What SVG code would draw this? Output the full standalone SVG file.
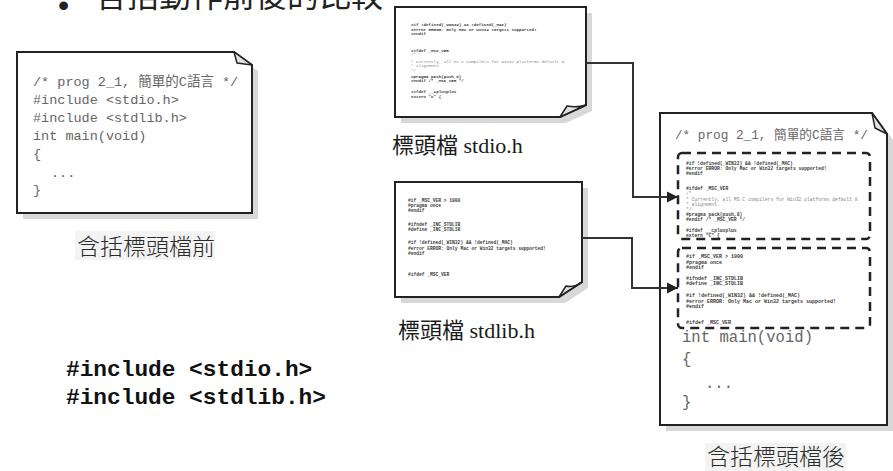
<svg xmlns="http://www.w3.org/2000/svg" width="893" height="471" viewBox="0 0 893 471">
<style>
.doc{fill:#fff;stroke:#222;stroke-width:2;stroke-linejoin:miter}
.shadow{fill:#d8d8d8;stroke:none}
.fold{fill:#e2e2e2;stroke:#222;stroke-width:1.5;stroke-linejoin:round}
.code{font-family:"Liberation Mono","Noto Sans CJK TC",monospace;fill:#666}
.tiny{font-family:"Liberation Mono",monospace;font-weight:bold;fill:#3a3a3a}
.tinyc{font-family:"Liberation Mono",monospace;fill:#888}
.lbl{font-family:"Noto Sans CJK TC",sans-serif;font-size:23px;fill:#2a2a2a;font-weight:300}
.hlbl{font-family:"Liberation Serif","Noto Sans CJK TC",serif;font-size:22px;fill:#1a1a1a}
.dash{fill:none;stroke:#222;stroke-width:2.5;stroke-dasharray:9 6}
.conn{fill:none;stroke:#333;stroke-width:2}
</style>
<defs>
<marker id="arr" markerUnits="userSpaceOnUse" markerWidth="12" markerHeight="12" refX="11" refY="6" orient="auto">
<path d="M0,0.5 L11,6 L0,11.5 Z" fill="#222"/>
</marker>
</defs>

<g id="title">
<text x="58" y="16" font-family="Liberation Sans, sans-serif" font-size="32" fill="#222">•</text>
<text x="95" y="7" font-family="Noto Sans CJK TC, sans-serif" font-size="32" fill="#222">含括動作前後的比較</text>
</g>

<g id="before">
<path class="shadow" d="M23,58 H240 L258,71 V219 H23 Z"/>
<path class="doc" d="M17,52 H234 L252,65 V213 H17 Z"/>
<path class="fold" d="M234,52 L237,63 L252,65 Z"/>
<g class="code" font-size="13.5">
<text x="33" y="86">/* prog 2_1, 簡單的C語言 */</text>
<text x="33" y="104">#include &lt;stdio.h&gt;</text>
<text x="33" y="122">#include &lt;stdlib.h&gt;</text>
<text x="33" y="140">int main(void)</text>
<text x="33" y="158">{</text>
<text x="51" y="177">...</text>
<text x="33" y="194">}</text>
</g>
<rect x="75" y="231" width="140" height="29" fill="#f3f3f3"/>
<text class="lbl" x="77" y="255">含括標頭檔前</text>
</g>

<g id="stdio">
<path class="shadow" d="M401,13 H592 V111 L566,123 H401 Z"/>
<path class="doc" d="M395,7 H586 V105 L560,117 H395 Z"/>
<path class="fold" d="M560,117 L567,106 Q577,108 586,105 Z"/>
<g font-size="4.2">
<text class="tiny" x="411" y="26">#if     !defined(_WIN32) &amp;&amp; !defined(_MAC)</text>
<text class="tiny" x="411" y="30.5">#error ERROR: Only Mac or Win32 targets supported!</text>
<text class="tiny" x="411" y="35">#endif</text>
<text class="tiny" x="411" y="52">#ifdef  _MSC_VER</text>
<text class="tinyc" x="411" y="56">/*</text>
<text class="tinyc" x="411" y="62.5"> * Currently, all MS C compilers for Win32 platforms default 8</text>
<text class="tinyc" x="411" y="67"> * alignment.</text>
<text class="tinyc" x="411" y="71.5"> */</text>
<text class="tiny" x="411" y="77.5">#pragma pack(push,8)</text>
<text class="tiny" x="411" y="81.5">#endif  /* _MSC_VER */</text>
<text class="tiny" x="411" y="92.5">#ifdef  __cplusplus</text>
<text class="tiny" x="411" y="97.5">extern "C" {</text>
</g>
<text class="hlbl" x="392" y="153">標頭檔 stdio.h</text>
</g>

<g id="stdlib">
<path class="shadow" d="M401,188 H588 V288 L565,303 H401 Z"/>
<path class="doc" d="M395,182 H582 V282 L559,297 H395 Z"/>
<path class="fold" d="M559,297 L566,286 Q574,288 582,282 Z"/>
<g font-size="4.6">
<text class="tiny" x="408" y="201.5">#if     _MSC_VER &gt; 1000</text>
<text class="tiny" x="408" y="207">#pragma once</text>
<text class="tiny" x="408" y="212">#endif</text>
<text class="tiny" x="408" y="225.5">#ifndef _INC_STDLIB</text>
<text class="tiny" x="408" y="230.5">#define _INC_STDLIB</text>
<text class="tiny" x="408" y="244">#if     !defined(_WIN32) &amp;&amp; !defined(_MAC)</text>
<text class="tiny" x="408" y="249.5">#error ERROR: Only Mac or Win32 targets supported!</text>
<text class="tiny" x="408" y="255">#endif</text>
<text class="tiny" x="408" y="275.5">#ifdef  _MSC_VER</text>
</g>
<text class="hlbl" x="398" y="338">標頭檔 stdlib.h</text>
</g>

<g id="after">
<path class="shadow" d="M666,119 H878 L893,140 V431 H666 Z"/>
<path class="doc" d="M660,113 H872 L887,134 V425 H660 Z"/>
<path class="fold" d="M872,113 L875,128 L887,134 Z"/>
<text class="code" x="675" y="139" font-size="12.7">/* prog 2_1, 簡單的C語言 */</text>
<rect class="dash" x="678" y="153" width="192" height="86" rx="4"/>
<g font-size="4.7">
<text class="tiny" x="686" y="164.5">#if     !defined(_WIN32) &amp;&amp; !defined(_MAC)</text>
<text class="tiny" x="686" y="169.5">#error ERROR: Only Mac or Win32 targets supported!</text>
<text class="tiny" x="686" y="174.5">#endif</text>
<text class="tiny" x="686" y="189.5">#ifdef  _MSC_VER</text>
<text class="tinyc" x="686" y="194.5">/*</text>
<text class="tinyc" x="686" y="200.5"> * Currently, all MS C compilers for Win32 platforms default 8</text>
<text class="tinyc" x="686" y="205.5"> * alignment.</text>
<text class="tinyc" x="686" y="210.5"> */</text>
<text class="tiny" x="686" y="215.5">#pragma pack(push,8)</text>
<text class="tiny" x="686" y="220.5">#endif  /* _MSC_VER */</text>
<text class="tiny" x="686" y="231.5">#ifdef  __cplusplus</text>
<text class="tiny" x="686" y="236.5">extern "C" {</text>
</g>
<rect class="dash" x="678" y="248" width="192" height="80" rx="4"/>
<g font-size="5">
<text class="tiny" x="686" y="257.5">#if     _MSC_VER &gt; 1000</text>
<text class="tiny" x="686" y="263.5">#pragma once</text>
<text class="tiny" x="686" y="268.5">#endif</text>
<text class="tiny" x="686" y="279.5">#ifndef _INC_STDLIB</text>
<text class="tiny" x="686" y="284.5">#define _INC_STDLIB</text>
<text class="tiny" x="686" y="296.5">#if     !defined(_WIN32) &amp;&amp; !defined(_MAC)</text>
<text class="tiny" x="686" y="302.5">#error ERROR: Only Mac or Win32 targets supported!</text>
<text class="tiny" x="686" y="307.5">#endif</text>
<text class="tiny" x="686" y="323.5">#ifdef  _MSC_VER</text>
</g>
<g class="code" font-size="15.6">
<text x="682" y="342">int main(void)</text>
<text x="682" y="364">{</text>
<text x="705" y="388">...</text>
<text x="682" y="407">}</text>
</g>
<rect x="705" y="443" width="141" height="28" fill="#f3f3f3"/>
<text class="lbl" x="707" y="465">含括標頭檔後</text>
</g>

<g id="includes">
<text x="66" y="376" font-family="Liberation Mono, monospace" font-weight="bold" font-size="22.8" fill="#111">#include &lt;stdio.h&gt;</text>
<text x="66" y="404" font-family="Liberation Mono, monospace" font-weight="bold" font-size="22.8" fill="#111">#include &lt;stdlib.h&gt;</text>
</g>

<g id="connectors">
<path class="conn" d="M586,63 H633 V197 H678" marker-end="url(#arr)"/>
<path class="conn" d="M582,238 H632 V288 H678" marker-end="url(#arr)"/>
</g>
</svg>
